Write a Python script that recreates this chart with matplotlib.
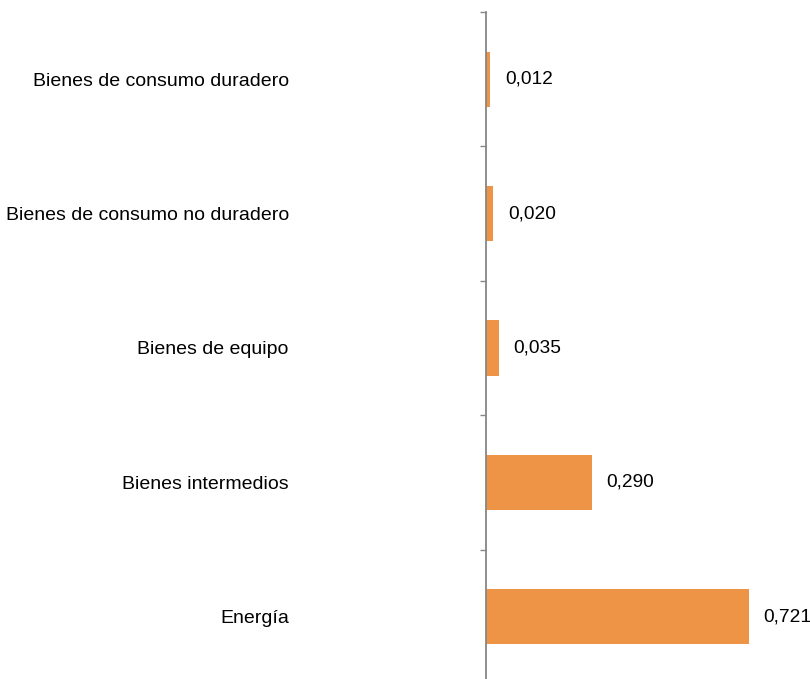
import matplotlib.pyplot as plt
import numpy as np

plt.rcParams['font.family'] = ['Liberation Sans', 'DejaVu Sans']

categorias = ['Bienes de consumo duradero', 'Bienes de consumo no duradero',
              'Bienes de equipo', 'Bienes intermedios', 'Energía']
valores = [0.012, 0.020, 0.035, 0.290, 0.721]
etiquetas = ['0,012', '0,020', '0,035', '0,290', '0,721']

fig = plt.figure(figsize=(8.1, 6.79), dpi=100)
ax = fig.add_axes([486 / 810, (679 - 684) / 679, 1 - 486 / 810, 672 / 679])

y = np.arange(len(categorias))
ax.barh(y, valores, height=0.41, color='#ED9447')
ax.set_ylim(len(categorias) - 0.5, -0.5)
ax.set_xlim(0, 324 / 364.8)

for yi, v, lab in zip(y, valores, etiquetas):
    ax.annotate(lab, (v, yi), xytext=(10.5, 0), textcoords='offset points',
                va='center', ha='left', fontsize=13.8, color='black')

for s in ['top', 'right', 'bottom']:
    ax.spines[s].set_visible(False)
ax.spines['left'].set_color('#868686')
ax.spines['left'].set_linewidth(1.3)
ax.set_xticks([])

ax.set_yticks(y)
ax.set_yticklabels(categorias, fontsize=14)
ax.tick_params(axis='y', which='major', length=0, pad=142)
ax.set_yticks(np.arange(len(categorias) + 1) - 0.5, minor=True)
ax.tick_params(axis='y', which='minor', length=4, color='#868686', width=1)

fig.savefig('out.png', dpi=100)
